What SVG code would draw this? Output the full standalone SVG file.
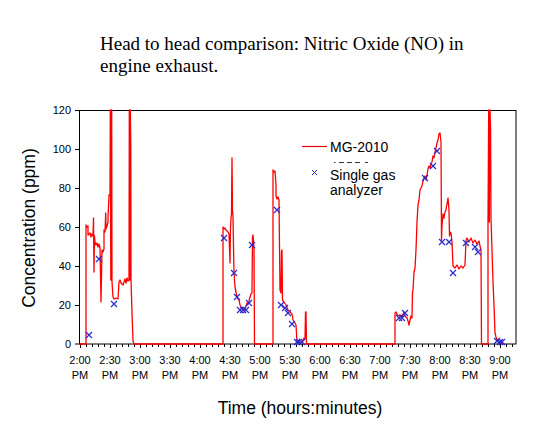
<svg xmlns="http://www.w3.org/2000/svg" width="535" height="427" viewBox="0 0 535 427">
<style>
.title{font-family:"Liberation Serif","Times New Roman",serif;font-size:19px;fill:#000}
.tick{font-family:"Liberation Sans",Arial,sans-serif;font-size:11px;fill:#000}
.axl{font-family:"Liberation Sans",Arial,sans-serif;font-size:17.5px;fill:#000}
.leg{font-family:"Liberation Sans",Arial,sans-serif;font-size:14px;fill:#000}
.data{fill:none;stroke:#ff0000;stroke-width:1.3;stroke-linejoin:round}
.ax{fill:none;stroke:#000;stroke-width:1}
</style>
<defs>
<path id="mk" d="M-3,-3 L3,3 M-3,3 L3,-3" fill="none" stroke="#2a2acc" stroke-width="1.2"/>
</defs>
<rect width="535" height="427" fill="#fff"/>
<g id="title">
<text class="title" x="100" y="50">Head to head comparison: Nitric Oxide (NO) in</text>
<text class="title" x="100" y="72">engine exhaust.</text>
</g>
<g id="axes">
<rect class="ax" x="79.5" y="110.5" width="436.5" height="233.5"/>
<path class="ax" d="M75,110.5H79.5M75,149.5H79.5M75,188.5H79.5M75,227.5H79.5M75,266.5H79.5M75,305.5H79.5M75,344H79.5"/>
<path class="ax" d="M80.5,344v4M86.5,344v3M92.5,344v3M98.5,344v3M104.5,344v3M110.5,344v4M116.5,344v3M122.5,344v3M128.5,344v3M134.5,344v3M140.5,344v4M146.5,344v3M152.5,344v3M158.5,344v3M164.5,344v3M170.5,344v4M176.5,344v3M182.5,344v3M188.5,344v3M194.5,344v3M200.5,344v4M206.5,344v3M212.5,344v3M218.5,344v3M224.5,344v3M230.5,344v4M236.5,344v3M242.5,344v3M248.5,344v3M254.5,344v3M260.5,344v4M266.5,344v3M272.5,344v3M278.5,344v3M284.5,344v3M290.5,344v4M296.5,344v3M302.5,344v3M308.5,344v3M314.5,344v3M320.5,344v4M326.5,344v3M332.5,344v3M338.5,344v3M344.5,344v3M350.5,344v4M356.5,344v3M362.5,344v3M368.5,344v3M374.5,344v3M380.5,344v4M386.5,344v3M392.5,344v3M398.5,344v3M404.5,344v3M410.5,344v4M416.5,344v3M422.5,344v3M428.5,344v3M434.5,344v3M440.5,344v4M446.5,344v3M452.5,344v3M458.5,344v3M464.5,344v3M470.5,344v4M476.5,344v3M482.5,344v3M488.5,344v3M494.5,344v3M500.5,344v4M506.5,344v3M512.5,344v3"/>
<g class="tick" text-anchor="end">
<text x="71" y="114">120</text>
<text x="71" y="153">100</text>
<text x="71" y="192">80</text>
<text x="71" y="231">60</text>
<text x="71" y="270">40</text>
<text x="71" y="309">20</text>
<text x="71" y="348">0</text>
</g>
<g class="tick" text-anchor="middle">
<text x="80" y="364">2:00</text><text x="80" y="379">PM</text>
<text x="110" y="364">2:30</text><text x="110" y="379">PM</text>
<text x="140" y="364">3:00</text><text x="140" y="379">PM</text>
<text x="170" y="364">3:30</text><text x="170" y="379">PM</text>
<text x="200" y="364">4:00</text><text x="200" y="379">PM</text>
<text x="230" y="364">4:30</text><text x="230" y="379">PM</text>
<text x="260" y="364">5:00</text><text x="260" y="379">PM</text>
<text x="290" y="364">5:30</text><text x="290" y="379">PM</text>
<text x="320" y="364">6:00</text><text x="320" y="379">PM</text>
<text x="350" y="364">6:30</text><text x="350" y="379">PM</text>
<text x="380" y="364">7:00</text><text x="380" y="379">PM</text>
<text x="410" y="364">7:30</text><text x="410" y="379">PM</text>
<text x="440" y="364">8:00</text><text x="440" y="379">PM</text>
<text x="470" y="364">8:30</text><text x="470" y="379">PM</text>
<text x="500" y="364">9:00</text><text x="500" y="379">PM</text>
</g>
<text class="axl" x="300" y="414" text-anchor="middle">Time (hours:minutes)</text>
<text class="axl" transform="translate(35,228) rotate(-90)" text-anchor="middle">Concentration (ppm)</text>
</g>
<g id="connectors">
<path id="mg2010" class="data" d="M80,344 L86,344 L86,225 L87,227 L88,226 L88,235 L90,233 L91,237 L92,234 L93,236 L93.5,218 L94,272 L94.5,236 L95,242 L96,245 L97,243 L98,247 L99,244 L100,248 L101,302 L102,250 L103,252 L104,249 L104,230 L105,232 L105.7,213 L106,229 L107,226 L108,222 L108,218 L109,195 L110,195 L110.3,110 L110.8,280 L111.2,110 L111.7,110 L112,282 L113,297 L114,299 L116,298 L118,299 L119,282 L120,280 L121,283 L123,285 L124,282 L125,279 L126,283 L127,278 L128,281 L129,280 L129.3,110 L129.8,280 L130.3,110 L130.8,145 L131,280 L132,313 L133,341 L134,344 L223,344 L223,227 L224,229 L225,228 L226,230 L228,232 L229,234 L230,263 L230.5,228 L231,218 L231.5,214 L232,158 L232.5,210 L233,217 L234,273 L235,287 L236,292 L237,297 L238,299 L239,300 L240,305 L242,308 L244,310 L245,308 L246,306 L247,303 L248,304 L249,301 L250,297 L251,294 L252,293 L252.5,237 L253,235 L254,248 L254.5,344 L273,344 L273,170 L274,172 L275,171 L276,185 L276,196 L277,199 L278,197 L279,200 L280,290 L281,293 L281.5,252 L282,250 L282.5,300 L284,302 L286,305 L288,310 L290,312 L292,314 L293,320 L295,323 L296,325 L297,342 L300,343 L302,342 L304,338 L305,339 L305.5,312 L306,312 L306.5,344 L395,344 L395,313 L396,312 L398,316 L400,315 L402,317 L404,312 L405,316 L407,318 L408,321 L409,325 L410,320 L411,316 L412,318 L412.5,292 L413,290 L414,272 L415,268 L416,250 L417,222 L418,205 L419,200 L420,190 L421,188 L422,186 L423,181 L424,178 L425,176 L426,180 L427,175 L428,169 L429,166 L430,168 L431,164 L432,162 L433,156 L434,158 L435,152 L436,148 L437,143 L438,140 L439,134 L440,133 L441,142 L441.5,240 L442,226 L443,214 L444,218 L445,212 L446,210 L447,204 L448,198 L449,210 L449.5,236 L450,232 L451,233 L452,242 L453,266 L455,268 L457,265 L459,269 L461,266 L463,268 L465,265 L466,240 L467,238 L469,242 L471,238 L473,243 L475,240 L477,244 L479,241 L480,246 L481,250 L481.5,344 L488,344 L488,222 L488.7,110 L489.3,222 L490,110 L490.6,130 L491,218 L492,250 L493,282 L494,305 L495,333 L496,337 L497,340 L498,342 L500,343 L503,344"/>
<g id="single-gas">
<use href="#mk" x="89" y="335"/>
<use href="#mk" x="99" y="259"/>
<use href="#mk" x="114" y="304"/>
<use href="#mk" x="224" y="238"/>
<use href="#mk" x="234" y="273"/>
<use href="#mk" x="237" y="297"/>
<use href="#mk" x="240" y="310"/>
<use href="#mk" x="243" y="310"/>
<use href="#mk" x="246" y="310"/>
<use href="#mk" x="249" y="303"/>
<use href="#mk" x="252" y="245"/>
<use href="#mk" x="277" y="210"/>
<use href="#mk" x="281" y="305"/>
<use href="#mk" x="285" y="308"/>
<use href="#mk" x="288" y="313"/>
<use href="#mk" x="292" y="324"/>
<use href="#mk" x="297" y="342"/>
<use href="#mk" x="299" y="342"/>
<use href="#mk" x="302" y="342"/>
<use href="#mk" x="399" y="318"/>
<use href="#mk" x="402" y="318"/>
<use href="#mk" x="405" y="313"/>
<use href="#mk" x="425" y="178"/>
<use href="#mk" x="433" y="166"/>
<use href="#mk" x="437" y="151"/>
<use href="#mk" x="442" y="242"/>
<use href="#mk" x="449" y="242"/>
<use href="#mk" x="453" y="273"/>
<use href="#mk" x="466" y="243"/>
<use href="#mk" x="475" y="247"/>
<use href="#mk" x="478" y="252"/>
<use href="#mk" x="497" y="341"/>
<use href="#mk" x="500" y="342"/>
<use href="#mk" x="502" y="342"/>
</g>
</g>
<g id="legend">
<line x1="302" y1="146.5" x2="327" y2="146.5" stroke="#e00000" stroke-width="1.2"/>
<text class="leg" x="330" y="152">MG-2010</text>
<path d="M312,170 L317,175 M312,175 L317,170" fill="none" stroke="#2a2acc" stroke-width="1"/>
<path d="M334,162.5h1.5M339,162.5h5M347,162.5h5M355,162.5h5M365,162.5h3" stroke="#333" stroke-width="1"/>
<text class="leg" x="330" y="180">Single gas</text>
<text class="leg" x="330" y="195">analyzer</text>
</g>
</svg>
